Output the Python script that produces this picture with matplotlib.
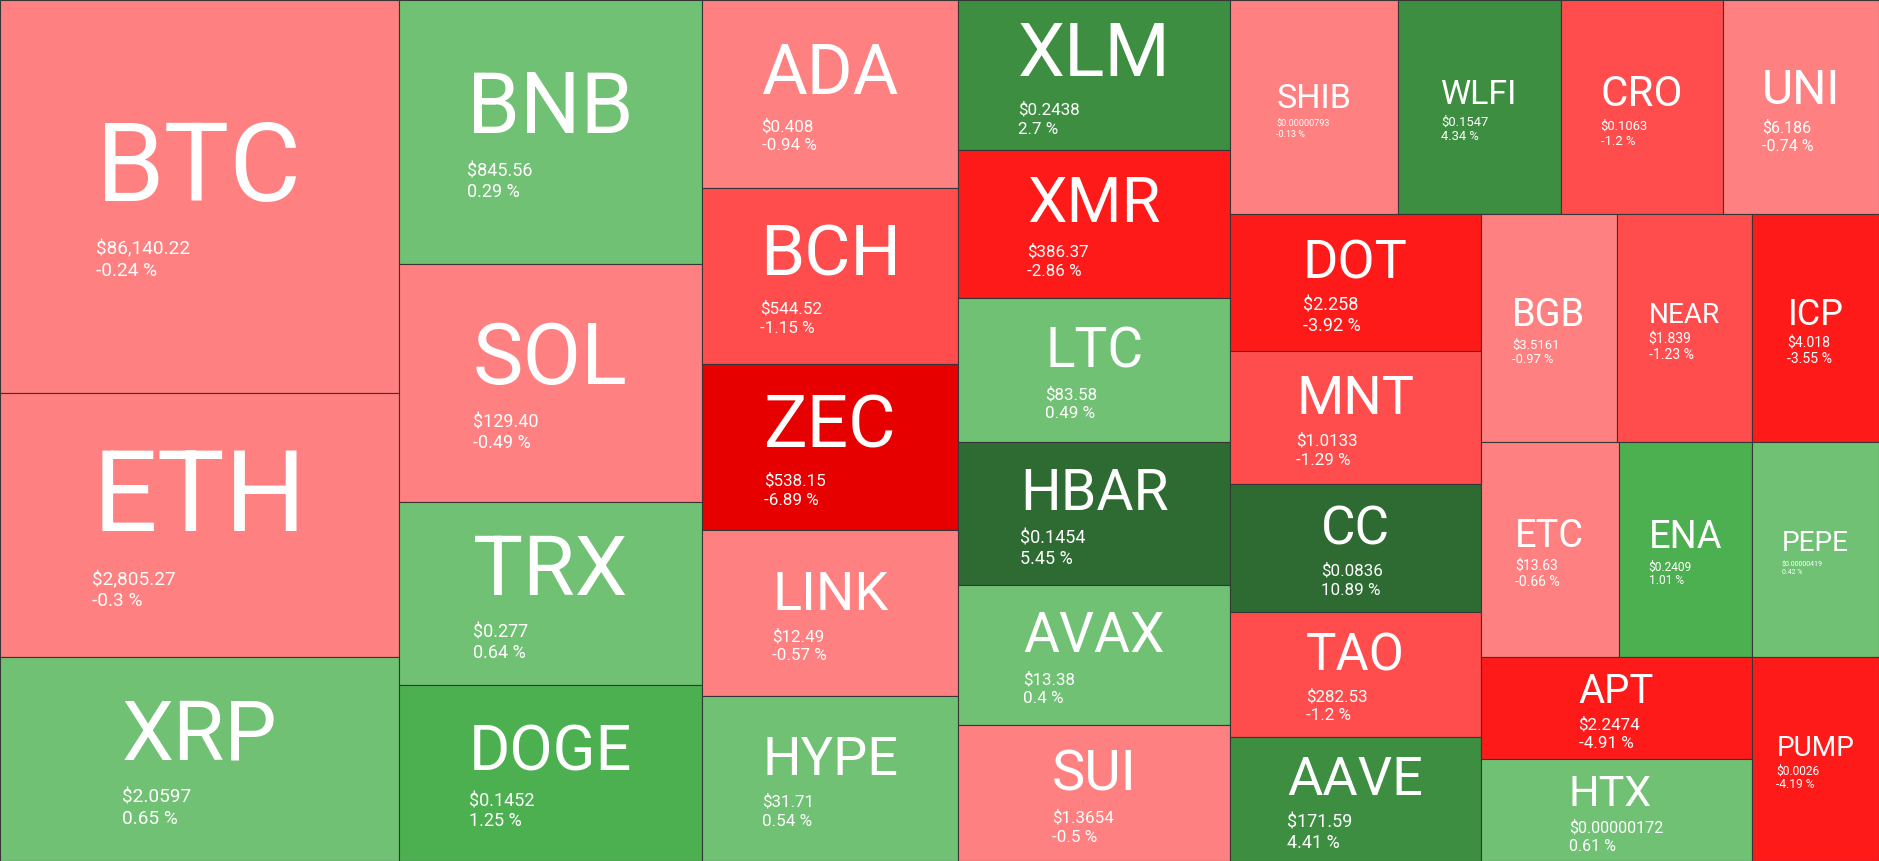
import math
import matplotlib
matplotlib.use("Agg")
import matplotlib.pyplot as plt
from matplotlib.patches import Rectangle

plt.rcParams['font.family'] = ['Roboto', 'DejaVu Sans']

# ---------------- data ----------------
symbols = ["BTC", "ETH", "XRP", "BNB", "SOL", "TRX", "DOGE", "ADA", "BCH", "ZEC",
           "LINK", "HYPE", "XLM", "XMR", "LTC", "HBAR", "AVAX", "SUI", "SHIB", "WLFI",
           "CRO", "UNI", "DOT", "MNT", "CC", "TAO", "AAVE", "BGB", "NEAR", "ICP",
           "ETC", "ENA", "PEPE", "APT", "HTX", "PUMP"]
weights = [156807, 105336, 81396, 80256, 72352, 55632, 53504, 48128, 45056, 42496,
           42496, 42240, 40800, 40256, 39440, 38896, 38080, 37000, 35900, 35000,
           34800, 33500, 34250, 33250, 32000, 31500, 31000, 31008, 30780, 28956,
           29808, 28728, 27432, 27642, 27642, 25908]
prices = ["$86,140.22", "$2,805.27", "$2.0597", "$845.56", "$129.40", "$0.277", "$0.1452",
          "$0.408", "$544.52", "$538.15", "$12.49", "$31.71", "$0.2438", "$386.37",
          "$83.58", "$0.1454", "$13.38", "$1.3654", "$0.00000793", "$0.1547", "$0.1063",
          "$6.186", "$2.258", "$1.0133", "$0.0836", "$282.53", "$171.59", "$3.5161",
          "$1.839", "$4.018", "$13.63", "$0.2409", "$0.00000419", "$2.2474",
          "$0.00000172", "$0.0026"]
changes = [-0.24, -0.3, 0.65, 0.29, -0.49, 0.64, 1.25, -0.94, -1.15, -6.89,
           -0.57, 0.54, 2.7, -2.86, 0.49, 5.45, 0.4, -0.5, -0.13, 4.34,
           -1.2, -0.74, -3.92, -1.29, 10.89, -1.2, 4.41, -0.97, -1.23, -3.55,
           -0.66, 1.01, 0.42, -4.91, 0.61, -4.19]

# ---------------- styles (label sizes in px) ----------------
sym_px = [110, 114, 83, 85, 85, 84, 63, 70, 71, 73,
          54, 54, 75, 63, 55, 57, 55, 56, 34, 34,
          42, 48, 54, 54, 53, 51, 54, 38, 28, 36,
          38, 38, 28, 40, 43, 28]
sub_px = [19, 19, 19, 18, 18, 18, 18, 17, 17, 17,
          17, 17, 17, 17, 17, 18, 17, 17, 9, 13,
          13, 16, 18, 17, 17, 17, 18, 13, 14, 14,
          14, 12, 7, 17, 16, 12]

W, H, DPI = 1879, 861, 100


def color_for(c):
    if c >= 5:
        return "#2E6B32"
    if c >= 2:
        return "#3D8E41"
    if c >= 1:
        return "#4CAF50"
    if c >= 0:
        return "#71C175"
    if c > -1:
        return "#FF8080"
    if c > -2:
        return "#FF4D4D"
    if c > -5:
        return "#FF1A1A"
    return "#E60000"


def squarify(values, x, y, w, h, ratio=(1 + 5 ** 0.5) / 2):
    total = float(sum(values))
    areas = [v * w * h / total for v in values]
    rect = {"x": x, "y": y, "w": w, "h": h}
    out = [None] * len(values)
    queue = list(range(len(values)))

    def worst(row, row_area, fixed):
        amax = max(areas[i] for i in row)
        amin = min(areas[i] for i in row)
        sq = row_area * row_area
        f = fixed * fixed * ratio
        return max(f * amax / sq, sq / (f * amin))

    def position(row, row_area, fixed, flush):
        horizontal = fixed == rect["w"]
        other = row_area / fixed
        lim = rect["h"] if horizontal else rect["w"]
        if flush or other > lim:
            other = lim
        if horizontal:
            last, end = rect["x"], rect["x"] + rect["w"]
        else:
            last, end = rect["y"], rect["y"] + rect["h"]
        for k, i in enumerate(row):
            step = areas[i] / other
            remain = end - last
            mod = remain if (k == len(row) - 1 or remain < step) else step
            if horizontal:
                out[i] = (last, rect["y"], mod, other)
            else:
                out[i] = (rect["x"], last, other, mod)
            last += mod
        if horizontal:
            rect["y"] += other
            rect["h"] -= other
        else:
            rect["x"] += other
            rect["w"] -= other

    row, row_area, best = [], 0.0, math.inf
    fixed = min(rect["w"], rect["h"])
    while queue:
        i = queue[0]
        row.append(i)
        row_area += areas[i]
        score = worst(row, row_area, fixed)
        if score <= best:
            queue.pop(0)
            best = score
        else:
            row.pop()
            row_area -= areas[i]
            position(row, row_area, fixed, False)
            fixed = min(rect["w"], rect["h"])
            row, row_area, best = [], 0.0, math.inf
    if row:
        position(row, row_area, fixed, True)
    return out


fig = plt.figure(figsize=(W / DPI, H / DPI), dpi=DPI)
ax = fig.add_axes([0, 0, 1, 1])
ax.set_xlim(0, W)
ax.set_ylim(H, 0)
ax.axis("off")

rects = squarify(weights, 0, 0, W, H)
renderer = fig.canvas.get_renderer()
PT = 72.0 / DPI
CAP = 0.711
GAP = 0.36
LINE = 1.12

for i, (x, y, w, h) in enumerate(rects):
    ax.add_patch(Rectangle((x, y), w, h, facecolor=color_for(changes[i]),
                           edgecolor="#363636", linewidth=1.1 * PT))
    fs = sym_px[i]
    fp = sub_px[i]
    t1 = ax.text(0, 0, symbols[i], color="white", fontsize=fs * PT, va="baseline", ha="left")
    t2 = ax.text(0, 0, prices[i], color="white", fontsize=fp * PT, va="baseline", ha="left")
    t3 = ax.text(0, 0, f"{changes[i]:g} %", color="white", fontsize=fp * PT,
                 va="baseline", ha="left")
    bw = max(t.get_window_extent(renderer).width for t in (t1, t2, t3))
    gap = GAP * fs
    block = CAP * fs + gap + CAP * fp + LINE * fp
    cx, cy = x + w / 2, y + h / 2
    top = cy - block / 2 + 3
    left = cx - bw / 2
    b1 = top + CAP * fs
    b2 = b1 + gap + CAP * fp
    b3 = b2 + LINE * fp
    t1.set_position((left, b1))
    t2.set_position((left, b2))
    t3.set_position((left, b3))

fig.savefig("out.png", dpi=DPI)
